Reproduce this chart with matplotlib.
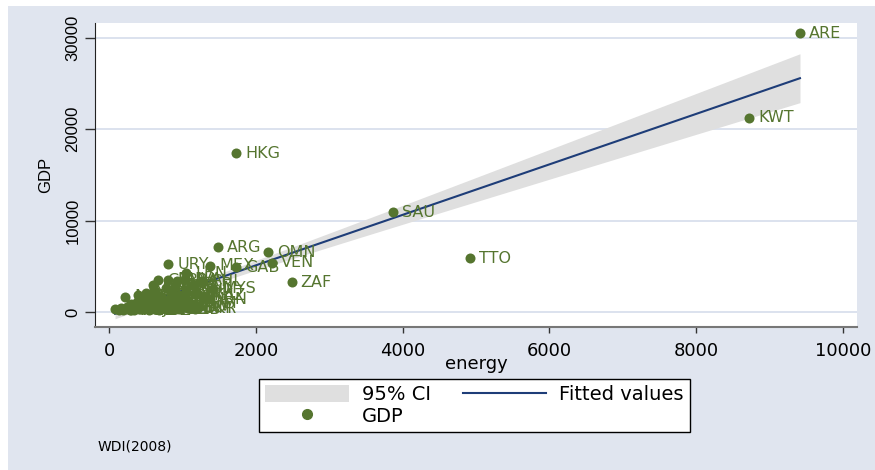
import numpy as np
import matplotlib
matplotlib.use("Agg")
import matplotlib.pyplot as plt
from matplotlib.patches import Rectangle, Patch
from matplotlib.lines import Line2D

plt.rcParams['font.family'] = ['DejaVu Sans']

# ---- data (energy use per capita vs GDP per capita) ----
codes = ["ARE", "KWT", "HKG", "SAU", "TTO", "ZAF", "ARG", "OMN", "VEN", "GAB",
         "URY", "MEX", "LBN", "CHL", "CRI", "PAN", "BRA", "LVA", "CUB", "BLR", "SRB",
         "JAM", "NAM", "THA", "JOR", "BGR", "MKD", "TUR", "ROU", "BIH", "MYS", "KAZ",
         "MAR", "HND", "GTM", "SLV", "EGY", "PRY", "ECU", "ALB", "SYR", "DZA", "PER",
         "TUN", "COL", "CHN", "DOM", "IRN",
         "ETH", "NPL", "BGD", "MMR", "TZA", "SEN", "HTI", "MOZ", "TGO", "YEM", "BEN",
         "KHM", "SDN", "CMR", "GHA", "KEN", "ZMB", "TJK", "NIC", "PAK", "IND", "KGZ",
         "MDA", "VNM", "LKA", "PHL", "ZWE", "NGA", "AGO", "COG", "IDN", "BOL", "UZB",
         "GEO", "ARM", "UKR"]
energy = [9414, 8719, 1730, 3869, 4918, 2489, 1489, 2170, 2216, 1730,
          808, 1376, 1049, 1250, 667, 803, 926, 1035, 600, 1150, 900,
          400, 500, 620, 700, 780, 860, 950, 1050, 1200, 1420, 1300,
          218, 300, 380, 450, 520, 560, 610, 680, 700, 750, 820,
          880, 940, 1020, 1100, 1376,
          82, 130, 160, 190, 220, 250, 270, 290, 300, 320, 340,
          350, 370, 390, 410, 420, 450, 470, 480, 500, 520, 540,
          560, 600, 620, 650, 680, 720, 760, 800, 850, 900, 950,
          1000, 1080, 1170]
gdp = [30490, 21250, 17360, 10940, 5900, 3250, 7080, 6530, 5390, 4890,
       5220, 5070, 4230, 3300, 3450, 3550, 3400, 3600, 2900, 3000, 2800,
       1900, 2100, 2300, 1800, 2600, 2200, 1900, 2400, 2000, 2550, 1800,
       1670, 900, 1100, 1300, 950, 1500, 1200, 1400, 900, 1100, 1300,
       1000, 1600, 1200, 900, 1420,
       330, 250, 420, 180, 300, 520, 420, 170, 200, 600, 250,
       450, 520, 680, 300, 350, 330, 280, 470, 600, 620, 200,
       350, 400, 550, 700, 250, 500, 290, 450, 380, 600, 300,
       500, 420, 350]

x_ticks = [0, 2000, 4000, 6000, 8000, 10000]
y_ticks = [0, 10000, 20000, 30000]

# ---- styles ----
BG = "#E0E5EF"
GREEN = "#55752F"
NAVY = "#1E3D78"
CI_COL = "#DFDFDF"
GRID = "#DCE2EE"

W, H = 875, 470
fig = plt.figure(figsize=(W / 100, H / 100), dpi=100, facecolor="white")
fig.patches.append(Rectangle((8 / W, 0), (W - 8) / W, (H - 6) / H, transform=fig.transFigure,
                             facecolor=BG, edgecolor="none", zorder=-10))

ax = fig.add_axes([95 / W, 1 - 327 / H, 762 / W, 304 / H])
ax.set_facecolor("white")

# ---- linear fit with 95% CI of the mean ----
x = np.array(energy, float)
y = np.array(gdp, float)
n = len(x)
b, a = np.polyfit(x, y, 1)
xs = np.linspace(x.min(), x.max(), 200)
yhat = a + b * xs
resid = y - (a + b * x)
s = np.sqrt(np.sum(resid ** 2) / (n - 2))
sxx = np.sum((x - x.mean()) ** 2)
se = s * np.sqrt(1 / n + (xs - x.mean()) ** 2 / sxx)
tval = 1.99

ax.fill_between(xs, yhat - tval * se, yhat + tval * se, color=CI_COL, lw=0, zorder=1)
ax.plot(xs, yhat, color=NAVY, lw=1.5, zorder=2)
ax.scatter(x, y, s=52, color=GREEN, lw=0, zorder=3)
for c, xi, yi in zip(codes, x, y):
    ax.annotate(c, (xi, yi), xytext=(6.5, 0), textcoords="offset points",
                ha="left", va="center", fontsize=11.5, color=GREEN, zorder=4)

ax.set_xlim(-191, 10191)
ax.set_ylim(-1641, 31619)
ax.set_xticks(x_ticks)
ax.set_yticks(y_ticks)
ax.set_xticklabels([str(t) for t in x_ticks])
ax.set_yticklabels([str(t) for t in y_ticks])
ax.grid(axis="y", color=GRID, lw=1.4, zorder=0)
ax.set_axisbelow(True)
for sp in ["top", "right"]:
    ax.spines[sp].set_visible(False)
ax.spines["left"].set_color("#222222")
ax.spines["bottom"].set_color("#777777")
ax.spines["bottom"].set_linewidth(1.5)
ax.tick_params(axis="x", length=4.5, width=1, pad=6, labelsize=13, color="#333333")
ax.tick_params(axis="y", length=7, width=1, pad=3.5, labelsize=12, color="#333333")
for lab in ax.get_yticklabels():
    lab.set_family("Liberation Sans")
    lab.set_rotation(90)
    lab.set_va("center")

ax.set_xlabel("energy", fontsize=13, labelpad=-3)
ax.set_ylabel("GDP", fontsize=12, family="Liberation Sans", labelpad=9)

handles = [Patch(facecolor=CI_COL, edgecolor="none"),
           Line2D([], [], marker="o", ls="none", color=GREEN, markersize=7),
           Line2D([], [], color=NAVY, lw=1.5)]
labels = ["95% CI", "GDP", "Fitted values"]
leg = fig.legend(handles, labels, ncol=2, loc="center", bbox_to_anchor=(474.5 / W, 1 - 405.5 / H),
                 frameon=True, fancybox=False, edgecolor="black", framealpha=1, fontsize=14,
                 handlelength=4.3, handleheight=0.95, handletextpad=0.67, columnspacing=1.65,
                 borderpad=0.3, labelspacing=0.12, borderaxespad=0)
leg.get_frame().set_linewidth(1.0)

fig.text(98 / W, 1 - 447 / H, "WDI(2008)", fontsize=10, va="center", ha="left")

fig.savefig("out.png", dpi=100, facecolor=fig.get_facecolor())
